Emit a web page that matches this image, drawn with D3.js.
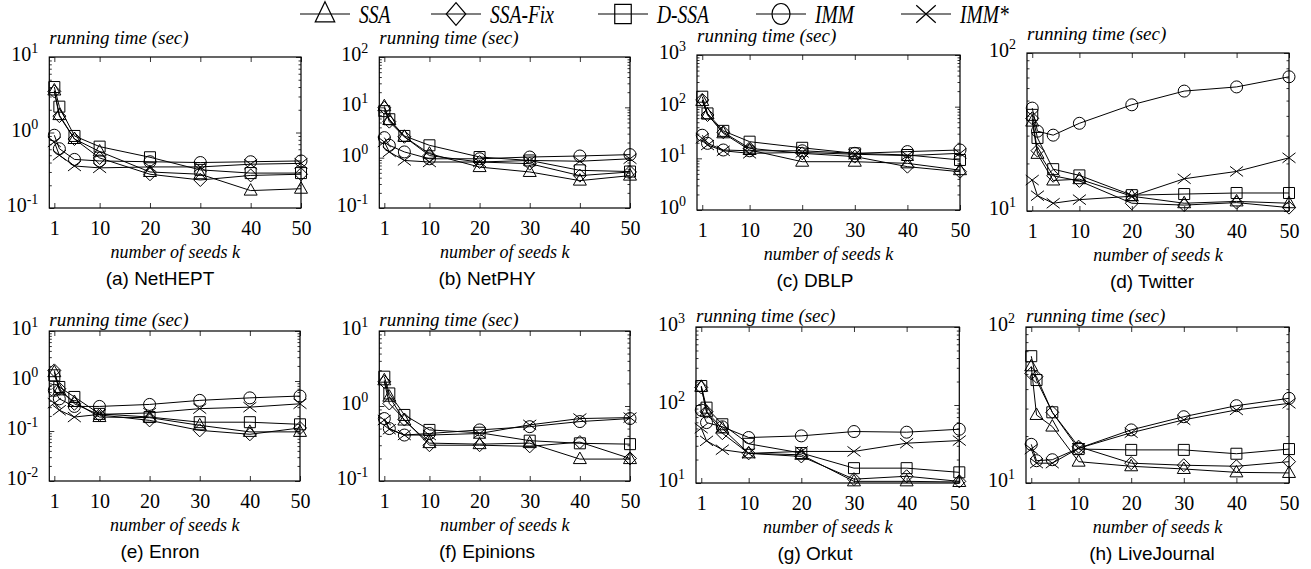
<!DOCTYPE html>
<html>
<head>
<meta charset="utf-8">
<script src="https://cdn.jsdelivr.net/npm/d3@7"></script>
<style>
    body { margin: 0; background: #fff; }
    svg { display: block; }
</style>
</head>
<body>
<script>
(function() {

    var ks = [1, 2, 5, 10, 20, 30, 40, 50]; // number of seeds k
    var xTicks = [1, 10, 20, 30, 40, 50];
    var seriesNames = ['SSA', 'SSA-Fix', 'D-SSA', 'IMM', 'IMM*'];
    var panelNames = ['(a) NetHEPT', '(b) NetPHY', '(c) DBLP', '(d) Twitter',
                      '(e) Enron', '(f) Epinions', '(g) Orkut', '(h) LiveJournal'];
    var yExponents = [[-1, 1], [-1, 2], [0, 3], [1, 2], [-2, 1], [-1, 1], [1, 3], [1, 2]]; // 10^lo .. 10^hi

    // running time (sec), one row per series, same order as seriesNames
    var nethept = [
        [3.6, 1.7, 0.82, 0.56, 0.30, 0.28, 0.17, 0.18],
        [3.5, 1.65, 0.82, 0.46, 0.28, 0.235, 0.27, 0.28],
        [4.0, 2.2, 0.9, 0.65, 0.47, 0.32, 0.29, 0.29],
        [0.92, 0.61, 0.44, 0.42, 0.41, 0.40, 0.41, 0.42],
        [0.75, 0.5, 0.36, 0.34, 0.35, 0.35, 0.38, 0.39]
    ];
    var netphy = [
        [10.5, 5.6, 2.6, 1.2, 0.65, 0.52, 0.35, 0.44],
        [9.8, 5.2, 2.6, 1.1, 0.82, 0.76, 0.44, 0.52],
        [8.4, 5.8, 2.7, 1.76, 1.03, 0.88, 0.56, 0.53],
        [2.5, 1.76, 1.3, 0.95, 0.95, 1.03, 1.08, 1.15],
        [2.05, 1.3, 0.88, 0.82, 0.82, 0.88, 0.85, 0.95]
    ];
    var dblp = [
        [129, 71, 30.5, 14.5, 8.6, 8.6, 8.0, 5.9],
        [135, 69, 32, 15.6, 12.5, 10.8, 6.9, 5.5],
        [156, 74, 34, 21, 16, 12.5, 11.6, 9.3],
        [28, 19.5, 14.5, 14, 14, 12.5, 13.5, 14.5],
        [24.4, 18.1, 14, 12.5, 13, 12, 11.3, 12.5]
    ];
    var twitter = [
        [36.8, 23, 15.6, 15.9, 12.4, 11.2, 11.5, 11.2],
        [38.6, 24.1, 16.7, 15.5, 11.2, 10.9, 11.3, 10.5],
        [40.6, 29, 18.4, 16.8, 12.6, 12.8, 13, 13],
        [44.8, 32, 30.2, 35.9, 47, 57.4, 61, 70.7],
        [15.7, 12.5, 11.2, 11.8, 12.4, 16, 17.8, 21.7]
    ];
    var enron = [
        [1.5, 0.65, 0.38, 0.19, 0.185, 0.13, 0.096, 0.096],
        [1.63, 0.70, 0.35, 0.21, 0.163, 0.103, 0.086, 0.115],
        [1.3, 0.76, 0.48, 0.22, 0.19, 0.15, 0.15, 0.136],
        [0.65, 0.44, 0.31, 0.31, 0.34, 0.41, 0.46, 0.5],
        [0.36, 0.26, 0.19, 0.215, 0.23, 0.28, 0.3, 0.35]
    ];
    var epinions = [
        [2.2, 1.33, 0.64, 0.32, 0.31, 0.32, 0.196, 0.196],
        [2.1, 1.08, 0.66, 0.30, 0.30, 0.29, 0.33, 0.20],
        [2.46, 1.47, 0.76, 0.48, 0.44, 0.345, 0.318, 0.31],
        [0.68, 0.50, 0.41, 0.43, 0.48, 0.53, 0.62, 0.68],
        [0.65, 0.49, 0.41, 0.41, 0.43, 0.56, 0.68, 0.70]
    ];
    var orkut = [
        [171, 82, 50, 24, 23, 10.5, 10.5, 10.3],
        [168, 82, 43.5, 24, 21.9, 11.2, 12.2, 10.5],
        [175, 92.5, 56.6, 31.8, 24.2, 15.5, 15.5, 13.7],
        [86, 59.5, 52.5, 38.3, 40.2, 45.7, 44.8, 48.9],
        [50.4, 34.7, 26.7, 24, 25.4, 25.4, 32.4, 35]
    ];
    var livejournal = [
        [56, 27.3, 23, 13.7, 12.8, 12.3, 11.7, 11.6],
        [50.4, 48, 28.4, 17.1, 13.4, 13.0, 12.8, 13.7],
        [65, 45.7, 28.4, 16.5, 16.3, 16.3, 15.4, 16.5],
        [17.7, 13.9, 14.1, 16.7, 21.9, 26.6, 31.3, 34.9],
        [16.5, 13.4, 13.4, 16.7, 21, 25.4, 29.4, 32.4]
    ];

    var panels = [nethept, netphy, dblp, twitter, enron, epinions, orkut, livejournal];

    // plot boxes [left, right, top, bottom]
    var boxes = [
        [49.3, 301, 57, 208], [379.3, 630, 57, 208], [697, 960, 55, 210], [1027, 1289, 53, 211],
        [49.3, 300, 331, 481], [379.3, 630, 331, 481], [696, 959.3, 327, 483], [1026, 1289, 327, 483]
    ];
    var captionX = [160, 487, 815, 1152];

    var serif = "'Liberation Serif','Times New Roman',serif";
    var sans = "'Liberation Sans',Arial,Helvetica,sans-serif";

    // gnuplot-like point shapes
    var markers = [
        'M0,-7L6.5,4.5L-6.5,4.5Z',                 // triangle
        'M0,-6.5L6.5,0L0,6.5L-6.5,0Z',             // diamond
        'M-5.5,-5.5H5.5V5.5H-5.5Z',                // square
        'M6,0A6,6 0 1,1 -6,0A6,6 0 1,1 6,0Z',      // circle
        'M-6.5,-5L6.5,5M-6.5,5L6.5,-5'             // x
    ];

    var svg = d3.select('body').append('svg')
        .attr('width', 1311)
        .attr('height', 569);

    // legend
    var legendX = [300, 431, 598, 756, 901];
    var legend = svg.append('g');
    seriesNames.forEach(function(name, i) {
        var x0 = legendX[i];
        var item = legend.append('g');
        item.append('line')
            .attr('x1', x0).attr('x2', x0 + 50)
            .attr('y1', 14).attr('y2', 14)
            .attr('stroke', '#000').attr('stroke-width', 1.2);
        item.append('path')
            .attr('d', markers[i])
            .attr('transform', 'translate(' + (x0 + 25) + ',14) scale(1.5,1.75)')
            .attr('fill', 'none').attr('stroke', '#000')
            .attr('vector-effect', 'non-scaling-stroke').attr('stroke-width', 1.2);
        item.append('text')
            .attr('transform', 'translate(' + (x0 + 59) + ',23) scale(1,1.25)')
            .attr('font-family', serif).attr('font-style', 'italic')
            .attr('font-size', 19.5)
            .text(name);
    });

    panels.forEach(function(data, p) {
        var b = boxes[p];
        var L = b[0], R = b[1], T = b[2], B = b[3];
        var lo = yExponents[p][0], hi = yExponents[p][1];
        var g = svg.append('g');

        var x = d3.scaleLinear().domain([0, 50]).range([L, R]);
        var y = d3.scaleLog().domain([Math.pow(10, lo), Math.pow(10, hi)]).range([B, T]);

        var majors = d3.range(lo, hi + 1).map(function(e) { return Math.pow(10, e); });
        var minors = [];
        d3.range(lo, hi).forEach(function(e) {
            for (var m = 2; m < 10; m++) minors.push(m * Math.pow(10, e));
        });

        // inward ticks on all four sides
        g.append('g').attr('transform', 'translate(0,' + B + ')')
            .call(d3.axisBottom(x).tickValues(xTicks).tickSize(-5).tickPadding(13)
                .tickFormat(d3.format('d')));
        g.append('g').attr('transform', 'translate(0,' + T + ')')
            .call(d3.axisTop(x).tickValues(xTicks).tickSize(-5).tickFormat(''));
        g.append('g').attr('transform', 'translate(' + L + ',0)')
            .call(d3.axisLeft(y).tickValues(majors).tickSize(-5).tickFormat(''));
        g.append('g').attr('transform', 'translate(' + R + ',0)')
            .call(d3.axisRight(y).tickValues(majors).tickSize(-5).tickFormat(''));
        g.append('g').attr('transform', 'translate(' + L + ',0)')
            .call(d3.axisLeft(y).tickValues(minors).tickSize(-2.5).tickFormat(''));
        g.append('g').attr('transform', 'translate(' + R + ',0)')
            .call(d3.axisRight(y).tickValues(minors).tickSize(-2.5).tickFormat(''));

        g.selectAll('.domain').remove();
        g.selectAll('.tick line').attr('stroke', '#000').attr('stroke-width', 0.8);
        g.selectAll('.tick text')
            .attr('font-family', serif).attr('font-size', 20).attr('fill', '#000');

        // y labels 10^n
        majors.forEach(function(v, j) {
            var t = g.append('text')
                .attr('x', L - 11).attr('y', y(v) + 4)
                .attr('text-anchor', 'end')
                .attr('font-family', serif).attr('font-size', 20);
            t.append('tspan').text('10');
            t.append('tspan').attr('dy', -8).attr('font-size', 14).text(String(lo + j));
        });

        g.append('rect')
            .attr('x', L).attr('y', T)
            .attr('width', R - L).attr('height', B - T)
            .attr('fill', 'none').attr('stroke', '#000').attr('stroke-width', 1.2);

        var line = d3.line()
            .x(function(d, i) { return x(ks[i]); })
            .y(function(d) { return y(d); });

        data.forEach(function(vals, s) {
            g.append('path')
                .attr('d', line(vals))
                .attr('fill', 'none').attr('stroke', '#000').attr('stroke-width', 1);
            g.selectAll(null).data(vals).enter().append('path')
                .attr('d', markers[s])
                .attr('transform', function(d, i) {
                    return 'translate(' + x(ks[i]) + ',' + y(d) + ')';
                })
                .attr('fill', 'none').attr('stroke', '#000').attr('stroke-width', 1);
        });

        var row = p < 4 ? 0 : 1;
        g.append('text')
            .attr('x', L).attr('y', row === 0 ? T - 13 : T - 5)
            .attr('font-family', serif).attr('font-style', 'italic').attr('font-size', 19)
            .text('running time (sec)');
        g.append('text')
            .attr('x', (L + R) / 2).attr('y', B + 50)
            .attr('text-anchor', 'middle')
            .attr('font-family', serif).attr('font-style', 'italic').attr('font-size', 18)
            .text('number of seeds k');
        g.append('text')
            .attr('x', captionX[p % 4]).attr('y', B + 77)
            .attr('text-anchor', 'middle')
            .attr('font-family', sans).attr('font-size', 19)
            .text(panelNames[p]);
    });

})();
</script>
</body>
</html>
